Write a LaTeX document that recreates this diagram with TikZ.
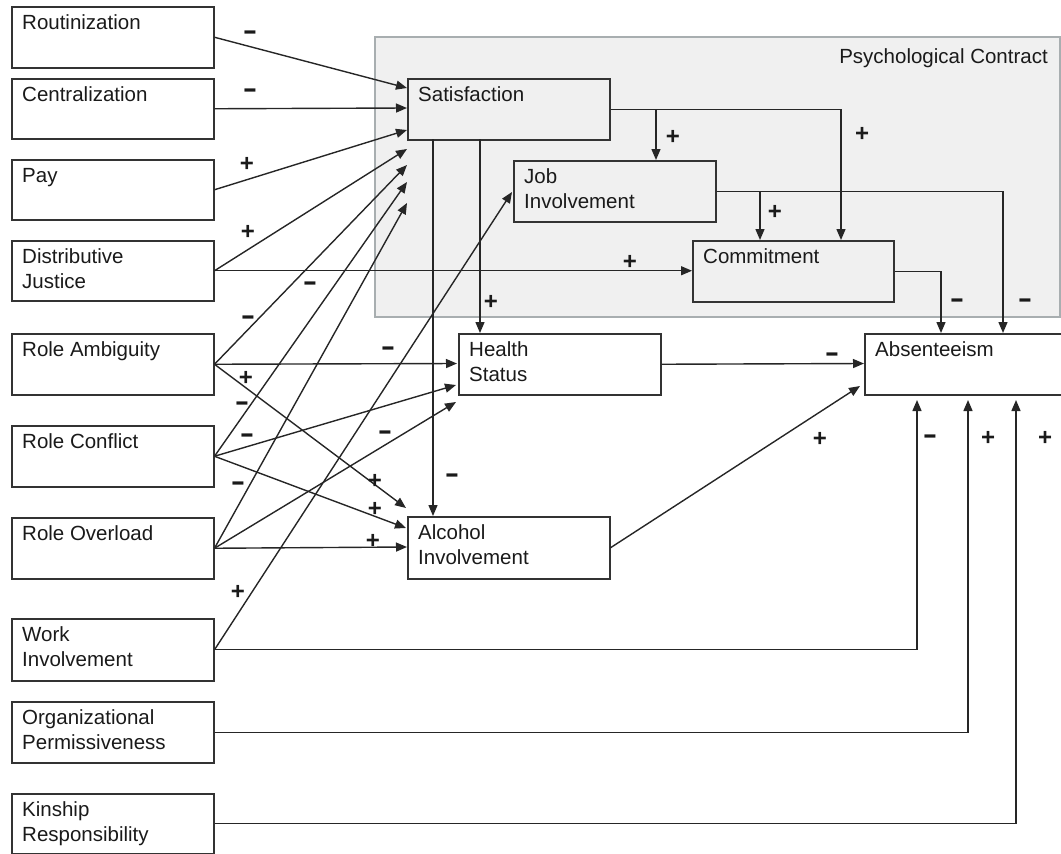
\documentclass[tikz,border=0pt]{standalone}
\usepackage{fontspec}
\setmainfont{Liberation Sans}
\usetikzlibrary{arrows.meta,calc}
\definecolor{ink}{HTML}{1A1A1A}
\definecolor{wire}{HTML}{262626}
\definecolor{boxline}{HTML}{333333}
\definecolor{pcfill}{HTML}{F0F0F0}
\definecolor{pcline}{HTML}{A8AEB0}
\newcommand\twoline[2]{\begin{tabular}[t]{@{}l@{}}#1\\#2\end{tabular}}
\newcommand\widedash{\scalebox{1.6}[1]{-}}

\begin{document}
\begin{tikzpicture}[x=1pt,y=-1pt,
  box/.style={draw=boxline, line width=1.5pt, rectangle, anchor=north west, inner sep=0pt},
  txt/.style={anchor=base west, inner sep=0pt, text=ink, font=\fontsize{20.5}{25}\selectfont},
  plussign/.style={anchor=base, inner sep=0pt, text=ink, font=\fontsize{24}{25}\selectfont\bfseries},
  minussign/.style={anchor=base, inner sep=0pt, text=ink, font=\fontsize{27}{25}\selectfont\bfseries},
  link/.style={draw=wire, line width=1.4pt, -{Triangle[length=11pt,width=9pt]}}]

\clip (0,0) rectangle (1061,854);

% psychological contract region
\node[draw=pcline, fill=pcfill, line width=1.8pt, rectangle, anchor=north west,
      inner sep=0pt, minimum width=685pt, minimum height=280pt] (pc) at (374,36) {};
\node[txt, anchor=base east] (pclabel) at (1048,63) {Psychological Contract};

% antecedents (left column)
\node[box, minimum width=202pt, minimum height=61pt] (rout) at (11,6) {};
\node[txt] (rout-t) at (22,29) {Routinization};
\node[box, minimum width=202pt, minimum height=60pt] (cent) at (11,78) {};
\node[txt] (cent-t) at (22,101) {Centralization};
\node[box, minimum width=202pt, minimum height=60pt] (pay) at (11,159) {};
\node[txt] (pay-t) at (22,182) {Pay};
\node[box, minimum width=202pt, minimum height=60pt] (dj) at (11,240) {};
\node[txt] (dj-t) at (22,263) {\twoline{Distributive}{Justice}};
\node[box, minimum width=202pt, minimum height=61pt] (ra) at (11,333) {};
\node[txt] (ra-t) at (22,356) {Role Ambiguity};
\node[box, minimum width=202pt, minimum height=61pt] (rc) at (11,425) {};
\node[txt] (rc-t) at (22,448) {Role Conflict};
\node[box, minimum width=202pt, minimum height=61pt] (ro) at (11,517) {};
\node[txt] (ro-t) at (22,540) {Role Overload};
\node[box, minimum width=202pt, minimum height=62pt] (wi) at (11,618) {};
\node[txt] (wi-t) at (22,641) {\twoline{Work}{Involvement}};
\node[box, minimum width=202pt, minimum height=61pt] (op) at (11,701) {};
\node[txt] (op-t) at (22,724) {\twoline{Organizational}{Permissiveness}};
\node[box, minimum width=202pt, minimum height=60pt] (kr) at (11,793) {};
\node[txt] (kr-t) at (22,816) {\twoline{Kinship}{Responsibility}};

% mediators and outcome
\node[box, minimum width=202pt, minimum height=61pt] (sat) at (407,78) {};
\node[txt] (sat-t) at (418,101) {Satisfaction};
\node[box, minimum width=202pt, minimum height=61pt] (ji) at (513,160) {};
\node[txt] (ji-t) at (524,183) {\twoline{Job}{Involvement}};
\node[box, minimum width=201pt, minimum height=61pt] (cm) at (692,240) {};
\node[txt] (cm-t) at (703,263) {Commitment};
\node[box, minimum width=202pt, minimum height=61pt] (hs) at (458,333) {};
\node[txt] (hs-t) at (469,356) {\twoline{Health}{Status}};
\node[box, minimum width=202pt, minimum height=62pt] (al) at (407,516) {};
\node[txt] (al-t) at (418,539) {\twoline{Alcohol}{Involvement}};
\node[box, minimum width=215pt, minimum height=61pt] (ab) at (864,333) {};
\node[txt] (ab-t) at (875,356) {Absenteeism};

% arrow end points beside the target boxes
\coordinate (s1) at (407,88);
\coordinate (s2) at (407,108);
\coordinate (s3) at (407,130);
\coordinate (s4) at (407,149);
\coordinate (s5) at (407,165);
\coordinate (s6) at (407,182);
\coordinate (s7) at (407,203);
\coordinate (h1) at (457,363.5);
\coordinate (h2) at (456,385);
\coordinate (h3) at (456,402);
\coordinate (a1) at (406,508);
\coordinate (a2) at (406,528);
\coordinate (a3) at (407,547);
\coordinate (jiin) at (656,160);
\coordinate (jiin2) at (512,192);
\coordinate (cmin1) at (841,240);
\coordinate (cmin2) at (760,240);
\coordinate (abt1) at (941,333);
\coordinate (abt2) at (1003,333);
\coordinate (abl1) at (864,363.5);
\coordinate (abl2) at (860,386);
\coordinate (abb1) at (917,400);
\coordinate (abb2) at (968,400);
\coordinate (abb3) at (1016,400);
\coordinate (satb1) at (433,139);
\coordinate (satb2) at (480,139);
\coordinate (alt) at (433,516);
\coordinate (hst) at (480,333);

% antecedents -> satisfaction
\draw[link] (rout.east) -- (s1);
\draw[link] (cent.east) -- (s2);
\draw[link] (pay.east) -- (s3);
\draw[link] (dj.east) -- (s4);
\draw[link] (ra.east) -- (s5);
\draw[link] (rc.east) -- (s6);
\draw[link] (ro.east) -- (s7);

% antecedents -> other mediators
\draw[link] (dj.east) -- (dj.east -| cm.west);
\draw[link] (ra.east) -- (h1);
\draw[link] (rc.east) -- (h2);
\draw[link] (ro.east) -- (h3);
\draw[link] (ra.east) -- (a1);
\draw[link] (rc.east) -- (a2);
\draw[link] (ro.east) -- (a3);
\draw[link] (wi.east) -- (jiin2);

% within the psychological contract
\draw[link] (satb1) -- (alt);
\draw[link] (satb2) -- (hst);
\draw[link] (sat.east) -| (jiin);
\draw[link] (sat.east) -| (cmin1);
\draw[link] (ji.east) -| (cmin2);
\draw[link] (ji.east) -| (abt2);
\draw[link] (cm.east) -| (abt1);

% into absenteeism
\draw[link] (hs.east) -- (abl1);
\draw[link] (al.east) -- (abl2);
\draw[link] (wi.east) -| (abb1);
\draw[link] (op.east) -| (abb2);
\draw[link] (kr.east) -| (abb3);

% path signs
\node[minussign] (g1) at (250,39) {\widedash};
\node[minussign] (g2) at (250,97) {\widedash};
\node[plussign] (g3) at (247,171) {+};
\node[plussign] (g4) at (248,239) {+};
\node[minussign] (g5) at (310,290) {\widedash};
\node[minussign] (g6) at (248,324) {\widedash};
\node[minussign] (g7) at (388,355) {\widedash};
\node[plussign] (g8) at (246,385) {+};
\node[minussign] (g9) at (242,410) {\widedash};
\node[minussign] (g10) at (247,442) {\widedash};
\node[minussign] (g11) at (385,439) {\widedash};
\node[minussign] (g12) at (238,490) {\widedash};
\node[plussign] (g13) at (375,488) {+};
\node[plussign] (g14) at (375,516) {+};
\node[plussign] (g15) at (373,548) {+};
\node[minussign] (g16) at (452,482) {\widedash};
\node[plussign] (g17) at (238,599) {+};
\node[plussign] (g18) at (491,309) {+};
\node[plussign] (g19) at (630,269) {+};
\node[plussign] (g20) at (673,144) {+};
\node[plussign] (g21) at (862,141) {+};
\node[plussign] (g22) at (775,219) {+};
\node[minussign] (g23) at (957,307) {\widedash};
\node[minussign] (g24) at (1025,307) {\widedash};
\node[minussign] (g25) at (832,361) {\widedash};
\node[plussign] (g26) at (820,446) {+};
\node[minussign] (g27) at (930,443) {\widedash};
\node[plussign] (g28) at (988,445) {+};
\node[plussign] (g29) at (1045,445) {+};
\end{tikzpicture}
\end{document}
